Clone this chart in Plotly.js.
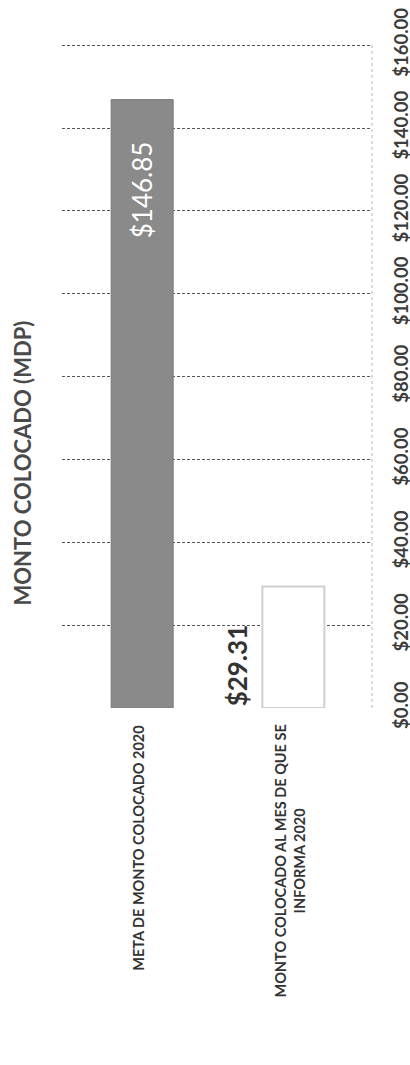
<!DOCTYPE html>
<html>
<head>
<meta charset="utf-8">
<script src="https://cdn.plot.ly/plotly-3.0.1.min.js"></script>
<style>html,body{margin:0;padding:0;background:#fff;}#chart{width:410px;height:1065px;}</style>
</head>
<body>
<div id="chart"></div>
<script>
var chartTitle = "MONTO COLOCADO (MDP)";
var categories = ["META DE MONTO COLOCADO 2020", "MONTO COLOCADO AL MES DE QUE SE INFORMA 2020"];
var categoryLabels = ["META DE MONTO COLOCADO 2020", "MONTO COLOCADO AL MES DE QUE SE<br>INFORMA 2020"];
var values = [146.85, 29.31];
var valueLabels = ["$146.85", "$29.31"];
var tickValues = [0, 20, 40, 60, 80, 100, 120, 140, 160];
var tickLabels = ["$0.00", "$20.00", "$40.00", "$60.00", "$80.00", "$100.00", "$120.00", "$140.00", "$160.00"];

var FONT = "Lato, 'Open Sans', sans-serif";

var trace = {
  type: "bar",
  x: categories,
  y: values,
  width: 0.41,
  marker: {
    color: ["#8a8a8a", "#ffffff"],
    line: {color: ["#7a7a7a", "#cfcfcf"], width: [1, 2]}
  },
  hoverinfo: "none"
};

var annotations = [];
annotations.push({
  xref: "paper", yref: "paper", x: -0.128, y: 0.367,
  text: "<b>" + chartTitle + "</b>", textangle: -90, showarrow: false,
  font: {family: FONT, size: 22, color: "#4a4a4a"},
  xanchor: "center", yanchor: "middle"
});
categoryLabels.forEach(function (lab, i) {
  annotations.push({
    xref: "x", yref: "paper", x: categories[i], y: -0.022,
    text: "<b>" + lab + "</b>", textangle: -90, showarrow: false, align: "center",
    font: {family: FONT, size: 14.5, color: "#333333"},
    xanchor: "center", yanchor: "top", xshift: -3
  });
});
annotations.push({
  xref: "x", yref: "y", x: categories[0], y: values[0],
  text: valueLabels[0], textangle: -90, showarrow: false,
  font: {family: FONT, size: 26, color: "#ffffff"},
  xanchor: "center", yanchor: "top", yshift: -40
});
annotations.push({
  xref: "x", yref: "y", x: categories[1], y: 0,
  text: "<b>" + valueLabels[1] + "</b>", textangle: -90, showarrow: false,
  font: {family: FONT, size: 26, color: "#333333"},
  xanchor: "center", yanchor: "bottom", xshift: -56, yshift: 0
});

var layout = {
  width: 410, height: 1065,
  margin: {l: 62, r: 38, t: 41, b: 357},
  paper_bgcolor: "#ffffff", plot_bgcolor: "#ffffff",
  showlegend: false,
  xaxis: {
    type: "category", categoryarray: categories, range: [-0.53, 1.52],
    showticklabels: false, showgrid: false, zeroline: false, showline: false, ticks: ""
  },
  yaxis: {
    side: "right", range: [0, 161], tickvals: tickValues, ticktext: tickLabels,
    tickangle: -90,
    tickfont: {family: FONT, size: 18.5, color: "#3c3c3c", weight: "bold"},
    showgrid: true, gridcolor: "#555555", griddash: "3px,2px", gridwidth: 1,
    zeroline: false, showline: false, ticks: "", ticklabelstandoff: 16
  },
  shapes: [{
    type: "line", xref: "paper", yref: "y", x0: 1, x1: 1, y0: 0, y1: 160,
    line: {color: "#b5b5b5", width: 1, dash: "dot"}
  }],
  annotations: annotations
};

Plotly.newPlot("chart", [trace], layout, {staticPlot: true});
</script>
</body>
</html>
